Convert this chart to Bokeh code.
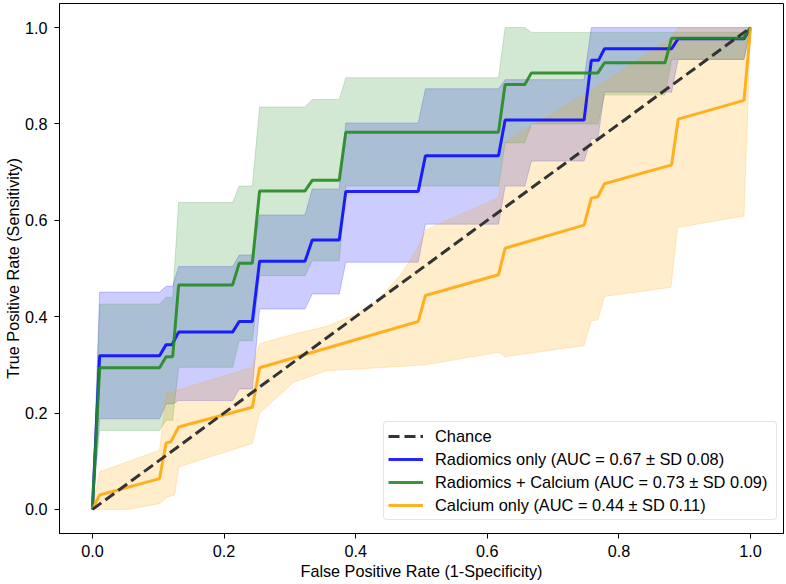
from bokeh.plotting import figure
from bokeh.models import Range1d, FixedTicker, Legend, LegendItem
from bokeh.embed import file_html
from bokeh.resources import INLINE

# ---------------- data ----------------
tick_values = [0.0, 0.2, 0.4, 0.6, 0.8, 1.0]
tick_labels = ["0.0", "0.2", "0.4", "0.6", "0.8", "1.0"]

chance_x = [0.0, 1.0]
chance_y = [0.0, 1.0]

# Radiomics only
rad_fpr = [0, 0.011, 0.102, 0.112, 0.121, 0.131, 0.213, 0.223, 0.243, 0.254, 0.323, 0.334, 0.375,
           0.385, 0.495, 0.506, 0.617, 0.627, 0.747, 0.758, 0.769, 0.778, 0.880, 0.890, 0.99, 1.0]
rad_tpr = [0, 0.319, 0.319, 0.342, 0.342, 0.368, 0.368, 0.39, 0.39, 0.515, 0.515, 0.559, 0.559,
           0.66, 0.66, 0.734, 0.734, 0.808, 0.808, 0.932, 0.932, 0.956, 0.956, 0.977, 0.977, 1.0]
rad_up_x = [0, 0.011, 0.102, 0.112, 0.122, 0.131, 0.213, 0.223, 0.243, 0.254, 0.323, 0.334, 0.375,
            0.385, 0.495, 0.506, 0.617, 0.627, 0.747, 0.758, 1.0]
rad_up_y = [0, 0.451, 0.451, 0.463, 0.463, 0.504, 0.504, 0.528, 0.528, 0.611, 0.611, 0.665, 0.665,
            0.802, 0.802, 0.873, 0.873, 0.892, 0.892, 1.0, 1.0]
rad_lo_x = [0, 0.011, 0.102, 0.112, 0.122, 0.131, 0.213, 0.223, 0.243, 0.254, 0.323, 0.334, 0.375,
            0.385, 0.495, 0.506, 0.617, 0.627, 0.657, 0.667, 0.747, 0.758, 0.768, 0.778, 0.880,
            0.890, 0.99, 1.0]
rad_lo_y = [0, 0.188, 0.188, 0.219, 0.219, 0.226, 0.226, 0.25, 0.25, 0.416, 0.416, 0.447, 0.447,
            0.513, 0.513, 0.592, 0.592, 0.671, 0.671, 0.723, 0.723, 0.77, 0.77, 0.866, 0.866,
            0.934, 0.934, 1.0]

# Radiomics + Calcium
comb_fpr = [0, 0.011, 0.102, 0.112, 0.122, 0.131, 0.213, 0.223, 0.243, 0.254, 0.323, 0.334, 0.375,
            0.385, 0.617, 0.627, 0.657, 0.667, 0.768, 0.778, 0.870, 0.880, 0.989, 1.0]
comb_tpr = [0, 0.294, 0.294, 0.317, 0.317, 0.466, 0.466, 0.511, 0.511, 0.661, 0.661, 0.683, 0.683,
            0.783, 0.783, 0.882, 0.882, 0.906, 0.906, 0.927, 0.927, 0.978, 0.978, 1.0]
comb_up_x = [0, 0.011, 0.102, 0.112, 0.122, 0.131, 0.213, 0.223, 0.243, 0.254, 0.323, 0.334, 0.375,
             0.385, 0.617, 0.627, 0.657, 0.667, 0.99, 1.0]
comb_up_y = [0, 0.426, 0.426, 0.44, 0.44, 0.637, 0.637, 0.671, 0.671, 0.835, 0.835, 0.851, 0.851,
             0.896, 0.896, 1.0, 1.0, 0.99, 0.99, 1.0]
comb_lo_x = [0, 0.011, 0.102, 0.112, 0.122, 0.131, 0.213, 0.223, 0.243, 0.254, 0.323, 0.334, 0.375,
             0.385, 0.617, 0.627, 0.657, 0.667, 0.768, 0.778, 0.870, 0.880, 0.99, 1.0]
comb_lo_y = [0, 0.164, 0.164, 0.185, 0.185, 0.295, 0.295, 0.35, 0.35, 0.485, 0.485, 0.516, 0.516,
             0.671, 0.671, 0.761, 0.761, 0.80, 0.80, 0.86, 0.86, 0.934, 0.934, 1.0]

# Calcium only
cal_fpr = [0, 0.011, 0.102, 0.112, 0.119, 0.131, 0.243, 0.254, 0.495, 0.506, 0.617, 0.627, 0.747,
           0.758, 0.768, 0.778, 0.880, 0.890, 0.990, 1.0]
cal_tpr = [0, 0.03, 0.064, 0.138, 0.14, 0.171, 0.212, 0.294, 0.39, 0.444, 0.487, 0.542, 0.59,
           0.646, 0.649, 0.676, 0.715, 0.81, 0.849, 1.0]
cal_up_x = [0, 0.011, 0.102, 0.112, 0.243, 0.254, 0.306, 0.356, 0.40, 0.434, 0.47, 0.495, 0.506,
            0.617, 0.627, 0.758, 0.877, 0.89, 1.0]
cal_up_y = [0, 0.078, 0.123, 0.24, 0.295, 0.344, 0.364, 0.38, 0.405, 0.434, 0.49, 0.545, 0.58,
            0.647, 0.763, 0.87, 0.975, 1.0, 1.0]
cal_lo_x = [0, 0.011, 0.053, 0.102, 0.114, 0.125, 0.131, 0.243, 0.254, 0.306, 0.356, 0.447, 0.506,
            0.617, 0.627, 0.747, 0.758, 0.768, 0.778, 0.879, 0.889, 0.99, 1.0]
cal_lo_y = [0, 0.0, 0.0, 0.012, 0.026, 0.03, 0.088, 0.137, 0.2, 0.264, 0.288, 0.295, 0.3,
            0.326, 0.317, 0.34, 0.392, 0.393, 0.442, 0.461, 0.585, 0.609, 1.0]

labels = ["Chance",
          "Radiomics only (AUC = 0.67 \u00b1 SD 0.08)",
          "Radiomics + Calcium (AUC = 0.73 \u00b1 SD 0.09)",
          "Calcium only (AUC = 0.44 \u00b1 SD 0.11)"]

BLUE = "#0000ff"
GREEN = "#228b22"
ORANGE = "#ffa500"
FONT = "Liberation Sans"

# ---------------- figure ----------------
p = figure(width=786, height=584, output_backend="svg", toolbar_location=None,
           x_range=Range1d(-0.05, 1.05), y_range=Range1d(-0.05, 1.05),
           min_border_left=57, min_border_right=3, min_border_top=3, min_border_bottom=51)
p.xgrid.visible = False
p.ygrid.visible = False
p.outline_line_color = "black"
p.outline_line_width = 1
p.outline_line_alpha = 1.0

for ax in (p.xaxis, p.yaxis):
    ax.ticker = FixedTicker(ticks=tick_values)
    ax.major_label_overrides = {v: s for v, s in zip(tick_values, tick_labels)}
    ax.minor_tick_line_color = None
    ax.major_tick_in = 0
    ax.major_tick_out = 5
    ax.axis_line_color = "black"
    ax.major_tick_line_color = "black"
    ax.major_label_text_font = FONT
    ax.major_label_text_font_size = "16.2px"
    ax.major_label_text_color = "black"
    ax.axis_label_text_font = FONT
    ax.axis_label_text_font_size = "16.2px"
    ax.axis_label_text_font_style = "normal"
    ax.axis_label_text_color = "black"

p.xaxis.major_label_standoff = 6
p.xaxis.axis_label_standoff = 2
p.yaxis.major_label_standoff = 7
p.yaxis.axis_label_standoff = 0

p.xaxis.axis_label = "False Positive Rate (1-Specificity)"
p.yaxis.axis_label = "True Positive Rate (Sensitivity)"


def band(xu, yu, xl, yl, color):
    xs = list(xu) + list(reversed(xl))
    ys = list(yu) + list(reversed(yl))
    p.patch(xs, ys, fill_color=color, fill_alpha=0.2, line_color=color, line_alpha=0.2, line_width=1)


band(rad_up_x, rad_up_y, rad_lo_x, rad_lo_y, BLUE)
band(comb_up_x, comb_up_y, comb_lo_x, comb_lo_y, GREEN)
band(cal_up_x, cal_up_y, cal_lo_x, cal_lo_y, ORANGE)

r_rad = p.line(rad_fpr, rad_tpr, line_color=BLUE, line_width=3, line_alpha=0.85)
r_comb = p.line(comb_fpr, comb_tpr, line_color=GREEN, line_width=3, line_alpha=0.9)
r_cal = p.line(cal_fpr, cal_tpr, line_color=ORANGE, line_width=3, line_alpha=0.85)
r_ch = p.line(chance_x, chance_y, line_color="#333333", line_width=3, line_dash="11 5")

legend = Legend(items=[LegendItem(label=labels[0], renderers=[r_ch]),
                       LegendItem(label=labels[1], renderers=[r_rad]),
                       LegendItem(label=labels[2], renderers=[r_comb]),
                       LegendItem(label=labels[3], renderers=[r_cal])],
                location=(324, 13))
legend.label_text_font = FONT
legend.label_text_font_size = "16.4px"
legend.label_text_color = "black"
legend.glyph_width = 35
legend.glyph_height = 20
legend.label_height = 20
legend.label_width = 337
legend.label_standoff = 12
legend.spacing = 3
legend.padding = 4
legend.margin = 0
legend.border_line_color = "#cccccc"
legend.border_line_width = 1
legend.background_fill_color = "white"
legend.background_fill_alpha = 0.8
if "border_radius" in Legend.properties():
    legend.border_radius = 4
p.add_layout(legend)

open("out.html", "w").write(file_html(p, INLINE))
